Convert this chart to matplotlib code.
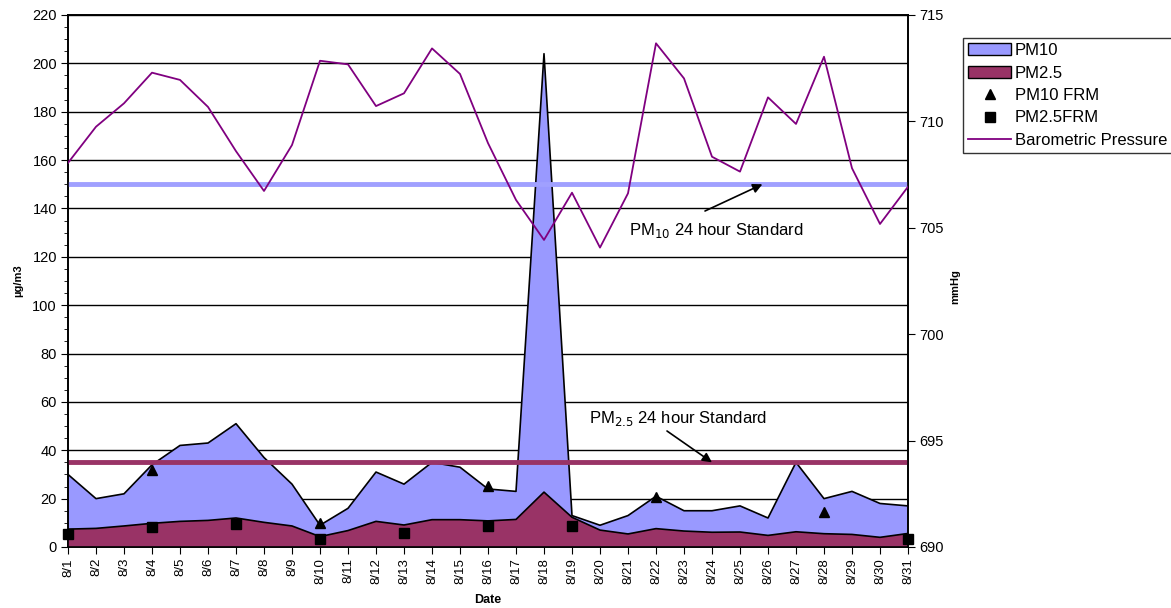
import numpy as np
import matplotlib
matplotlib.use("Agg")
import matplotlib.pyplot as plt
from matplotlib.patches import Patch
from matplotlib.lines import Line2D
from matplotlib.ticker import MultipleLocator

plt.rcParams["font.family"] = ["Liberation Sans", "DejaVu Sans"]

# =========================
# Data
# =========================

dates = [f"8/{d}" for d in range(1, 32)]

pm10 = [30, 20, 22, 34, 42, 43, 51, 37, 26, 9, 16, 31, 26, 35, 33, 24,
        23, 204, 13, 9, 13, 21, 15, 15, 17, 12, 35, 20, 23, 18, 17]

pm25 = [7.4, 7.7, 8.7, 9.8, 10.6, 11, 12, 10.2, 8.7, 4.3, 6.8, 10.6, 9.1,
        11.3, 11.3, 10.8, 11.4, 22.7, 12.3, 7, 5.4, 7.6, 6.6, 6.1, 6.2,
        4.8, 6.3, 5.5, 5.2, 4, 5.6]

pressure = [708.05, 709.75, 710.85, 712.29, 711.95, 710.68, 708.6, 706.73,
            708.89, 712.85, 712.68, 710.72, 711.32, 713.43, 712.23, 708.98,
            706.31, 704.43, 706.65, 704.07, 706.62, 713.67, 712.02, 708.34,
            707.64, 711.13, 709.88, 713.04, 707.80, 705.18, 706.93]

pm10_frm_days = ["8/4", "8/10", "8/16", "8/22", "8/28"]
pm10_frm = [31.8, 10, 25.2, 20.5, 14.3]

pm25_frm_days = ["8/1", "8/4", "8/7", "8/10", "8/13", "8/16", "8/19", "8/31"]
pm25_frm = [5.2, 8.1, 9.5, 3.2, 5.6, 8.8, 8.7, 3.3]

pm10_standard = 150
pm25_standard = 35

# =========================
# Plot
# =========================

W, H = 1171, 608
fig = plt.figure(figsize=(W / 100, H / 100), dpi=100)
ax = fig.add_axes([68 / W, 1 - 547 / H, 840 / W, 532 / H])

x = np.arange(len(dates))
idx = {d: i for i, d in enumerate(dates)}

ax.fill_between(x, 0, pm10, facecolor="#9999FF", edgecolor="none", zorder=2)
ax.plot(x, pm10, color="black", lw=1.2, zorder=3)
ax.fill_between(x, 0, pm25, facecolor="#993366", edgecolor="none", zorder=3)
ax.plot(x, pm25, color="black", lw=1.2, zorder=4)

ax.axhline(pm10_standard, color="#A0A0FF", lw=3.5, zorder=5)
ax.axhline(pm25_standard, color="#993366", lw=3.5, zorder=5)

ax.plot([idx[d] for d in pm10_frm_days], pm10_frm, "^", color="black",
        ms=7, zorder=7, clip_on=False)
ax.plot([idx[d] for d in pm25_frm_days], pm25_frm, "s", color="black",
        ms=7, zorder=7, clip_on=False)

ax.set_xlim(0, len(dates) - 1)
ax.set_ylim(0, 220)
ax.yaxis.set_major_locator(MultipleLocator(20))
ax.yaxis.set_minor_locator(MultipleLocator(5))
ax.grid(axis="y", color="black", lw=1)
ax.set_axisbelow(True)
ax.set_xticks(x)
ax.set_xticklabels(dates, rotation=90, fontsize=9.5)
ax.tick_params(axis="y", which="major", length=5, labelsize=10.5, pad=3)
ax.tick_params(axis="y", which="minor", length=3)
ax.tick_params(axis="x", length=5, pad=3)
for s in ax.spines.values():
    s.set_linewidth(1.2)

# standard labels and arrows
fig.text(629 / W, 1 - 231 / H, "PM$_{10}$ 24 hour Standard", fontsize=12,
         ha="left", va="center", zorder=8)
ax.annotate("", xy=(24.8, pm10_standard), xytext=(705, H - 211),
            textcoords="figure pixels",
            arrowprops=dict(arrowstyle="-|>", color="black", lw=1.2,
                            shrinkA=0, shrinkB=0, mutation_scale=14),
            zorder=8)
fig.text(589 / W, 1 - 419 / H, "PM$_{2.5}$ 24 hour Standard", fontsize=12,
         ha="left", va="center", zorder=8)
ax.annotate("", xy=(23.0, pm25_standard), xytext=(667, H - 431),
            textcoords="figure pixels",
            arrowprops=dict(arrowstyle="-|>", color="black", lw=1.2,
                            shrinkA=0, shrinkB=0, mutation_scale=14),
            zorder=8)

ax2 = ax.twinx()
ax2.plot(x, pressure, color="#800080", lw=1.3, zorder=6)
ax2.set_ylim(690, 715)
ax2.yaxis.set_major_locator(MultipleLocator(5))
ax2.tick_params(axis="y", length=5, labelsize=10.5, pad=3)
for s in ax2.spines.values():
    s.set_linewidth(1.2)

fig.text(18 / W, 1 - 281 / H, "µg/m3", rotation=90, fontsize=8,
         fontweight="bold", ha="center", va="center")
fig.text(955 / W, 1 - 287 / H, "mmHg", rotation=90, fontsize=8,
         fontweight="bold", ha="center", va="center")
fig.text(488 / W, 1 - 600 / H, "Date", fontsize=9,
         fontweight="bold", ha="center", va="center")

handles = [
    Patch(facecolor="#9999FF", edgecolor="black", label="PM10"),
    Patch(facecolor="#993366", edgecolor="black", label="PM2.5"),
    Line2D([], [], marker="^", color="black", ls="none", ms=7,
           label="PM10 FRM"),
    Line2D([], [], marker="s", color="black", ls="none", ms=7,
           label="PM2.5FRM"),
    Line2D([], [], color="#800080", lw=1.3, label="Barometric Pressure"),
]
leg = fig.legend(handles=handles, loc="upper left",
                 bbox_to_anchor=(963 / W, 1 - 38 / H),
                 frameon=True, fancybox=False, fontsize=12,
                 borderpad=0.3, labelspacing=0.45, handlelength=2.6,
                 handletextpad=0.2, borderaxespad=0)
leg.get_frame().set_edgecolor("black")
leg.get_frame().set_linewidth(1)

fig.savefig("out.png", dpi=100)
